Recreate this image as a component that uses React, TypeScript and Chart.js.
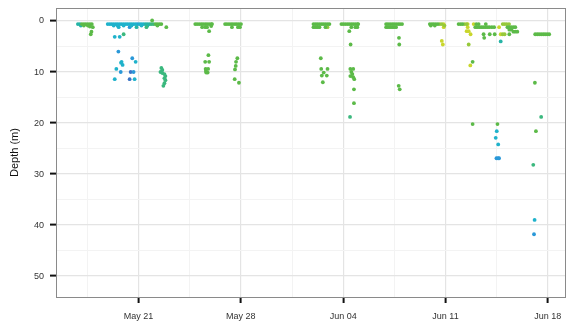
import React, { useEffect, useRef } from "react";
import { Chart, registerables } from "chart.js";

Chart.register(...registerables);

// x = days after May 21, y = depth (m)
const tickLabels = ["May 21", "May 28", "Jun 04", "Jun 11", "Jun 18"];
const depthTicks = [0, 10, 20, 30, 40, 50];

const cyanObs: [number, number][] = [
  [-2.11, 0.6], [-1.97, 0.6], [-1.84, 0.6], [-1.7, 0.6], [-1.56, 0.6], [-1.43, 0.6], [-1.29, 0.6], [-1.16, 0.6],
  [-1.02, 0.6], [-0.88, 0.6], [-0.75, 0.6], [-0.61, 0.6], [-0.48, 0.6], [-0.34, 0.6], [-0.2, 0.6], [0.07, 0.6],
  [0.2, 0.6], [0.34, 0.6], [-1.7, 0.9], [-1.43, 0.9], [-1.02, 0.9], [-0.48, 0.9], [0.2, 0.9],
  [-1.36, 1.2], [-1.63, 3.1], [-1.29, 3.1], [-1.16, 8.0], [-1.09, 8.6], [-1.2, 8.2], [-0.2, 8.0], [-1.52, 9.4],
  [-1.63, 11.4], [-0.27, 11.4], [24.51, 21.6], [24.44, 22.9], [24.61, 24.2], [27.1, 39.0],
];
const blueObs: [number, number][] = [
  [-0.07, 0.6], [-0.61, 1.2], [-1.38, 6.0], [-0.43, 7.3], [-1.22, 10.0], [-0.34, 10.0],
  [24.49, 26.9], [24.6, 26.9], [24.67, 26.9], [27.06, 41.8],
];
const darkBlueObs: [number, number][] = [[-0.61, 11.4], [-0.54, 10.0]];
const tealObs: [number, number][] = [
  [-4.15, 0.6], [-4.01, 0.6], [-3.95, 0.9], [0.48, 0.6], [0.61, 0.6], [0.75, 0.6], [0.61, 0.9], [-0.14, 1.2], [24.78, 4.0],
];
const tealGreenObs: [number, number][] = [
  [1.56, 9.2], [1.63, 9.6], [1.5, 10.0], [1.63, 10.2], [1.77, 10.4], [1.84, 10.8], [1.77, 11.2], [1.84, 11.6],
  [1.77, 12.2], [1.7, 12.7], [0.54, 1.2], [-1.02, 2.6], [0.88, 0.6], [1.02, 0.6], [14.47, 18.8], [27.55, 18.8], [27.01, 28.2],
];
const greenObs: [number, number][] = [
  [-3.88, 0.6], [-3.74, 0.6], [-3.61, 0.6], [-3.47, 0.6], [-3.33, 0.6], [-3.2, 0.6], [-3.74, 0.9], [-3.47, 0.9],
  [-3.33, 1.1], [-3.13, 1.2], [-3.22, 2.1], [-3.27, 2.6],
  [1.16, 0.6], [1.29, 0.6], [1.43, 0.6], [1.56, 0.6], [1.29, 0.9], [0.93, -0.1], [1.9, 1.2],
  [3.88, 0.6], [4.01, 0.6], [4.15, 0.6], [4.29, 0.6], [4.42, 0.6], [4.56, 0.6], [4.69, 0.6], [4.83, 0.6], [4.97, 0.6],
  [5.03, 0.6], [4.35, 1.2], [4.56, 1.2], [4.69, 1.2], [4.83, 2.0], [4.97, 1.0], [4.78, 6.7], [4.56, 8.0], [4.83, 8.0],
  [4.59, 9.4], [4.76, 9.4], [4.63, 10.1], [4.73, 10.1], [4.61, 9.8],
  [5.92, 0.6], [6.05, 0.6], [6.19, 0.6], [6.33, 0.6], [6.46, 0.6], [6.6, 0.6], [6.73, 0.6], [6.87, 0.6], [7.01, 0.6],
  [6.39, 1.2], [6.8, 1.2], [6.94, 1.2], [6.76, 7.3], [6.67, 8.0], [6.65, 8.8], [6.6, 9.5], [6.58, 11.4], [6.87, 12.1],
  [11.97, 0.6], [12.11, 0.6], [12.24, 0.6], [12.38, 0.6], [12.52, 0.6], [12.65, 0.6], [12.79, 0.6], [12.93, 0.6],
  [13.06, 0.6], [11.97, 1.2], [12.11, 1.2], [12.24, 1.2], [12.38, 1.2], [12.79, 1.2], [12.47, 7.3], [12.5, 9.4],
  [12.93, 9.4], [12.67, 10.1], [12.54, 10.7], [12.88, 10.7], [12.61, 12.0],
  [13.88, 0.6], [14.01, 0.6], [14.15, 0.6], [14.29, 0.6], [14.42, 0.6], [14.56, 0.6], [14.69, 0.6], [14.83, 0.6],
  [14.97, 0.6], [15.03, 0.6], [14.56, 1.2], [14.83, 1.2], [14.97, 1.2], [14.42, 2.0], [14.51, 4.6], [14.49, 9.4],
  [14.69, 9.4], [14.56, 10.0], [14.63, 10.4], [14.49, 10.8], [14.69, 11.0], [14.76, 11.4], [14.74, 13.4], [14.74, 16.1],
  [16.94, 0.6], [17.07, 0.6], [17.21, 0.6], [17.35, 0.6], [17.48, 0.6], [17.62, 0.6], [17.76, 0.6], [17.89, 0.6],
  [18.03, 0.6], [16.94, 1.2], [17.07, 1.2], [17.21, 1.2], [17.35, 1.2], [17.48, 1.2], [17.62, 1.2], [17.82, 3.3],
  [17.84, 4.6], [17.8, 12.7], [17.87, 13.4],
  [19.93, 0.6], [20.07, 0.6], [20.2, 0.6], [20.34, 0.6], [20.48, 0.6], [20.0, 0.9], [20.27, 0.9],
  [21.9, 0.6], [22.04, 0.6], [22.17, 0.6], [22.86, 8.0], [22.86, 20.2],
  [23.11, 0.6], [23.27, 0.6], [23.76, 0.6], [23.04, 1.2], [23.17, 1.2], [23.31, 1.2], [23.45, 1.2], [23.58, 1.2],
  [23.72, 1.2], [23.86, 1.2], [24.0, 1.2], [24.17, 1.2], [24.33, 1.2], [23.61, 2.6], [24.03, 2.6], [24.37, 2.6], [23.65, 3.3],
  [25.24, 1.2], [25.37, 1.2], [25.51, 1.2], [25.65, 1.2], [25.78, 1.2], [25.51, 1.7], [25.65, 2.1], [25.78, 2.1],
  [25.92, 2.1], [25.37, 2.6], [25.37, 1.7],
  [27.14, 2.6], [27.28, 2.6], [27.41, 2.6], [27.55, 2.6], [27.69, 2.6], [27.82, 2.6], [27.96, 2.6], [28.1, 2.6],
  [24.56, 20.2], [27.12, 12.1], [27.19, 21.6],
];
const limeObs: [number, number][] = [
  [20.61, 0.6], [20.75, 0.6], [22.31, 0.6], [22.45, 0.6], [12.93, 1.2], [24.92, 0.6], [25.05, 0.6], [25.19, 0.6],
  [25.35, 0.6], [24.92, 2.6], [25.05, 2.6], [20.93, 0.9], [22.59, 4.6],
];
const yellowObs: [number, number][] = [
  [20.88, 0.6], [20.88, 1.2], [20.75, 3.9], [20.82, 4.6], [22.52, 0.6], [22.52, 1.2], [22.45, 2.0], [22.59, 2.0],
  [22.72, 2.6], [22.7, 8.7], [22.93, 0.6], [24.67, 1.2], [24.78, 2.6],
];

const groups: { obs: [number, number][]; color: string }[] = [
  { obs: greenObs, color: "#5cba48" },
  { obs: limeObs, color: "#96c93a" },
  { obs: yellowObs, color: "#c9d62c" },
  { obs: tealGreenObs, color: "#3bb87e" },
  { obs: tealObs, color: "#26b4a6" },
  { obs: cyanObs, color: "#1fb2cb" },
  { obs: blueObs, color: "#2a98d8" },
  { obs: darkBlueObs, color: "#3b74c6" },
];

const framePlugin = {
  id: "frame",
  afterDatasetsDraw(chart: any) {
    const { ctx, chartArea } = chart;
    ctx.save();
    ctx.strokeStyle = "#8a8a8a";
    ctx.lineWidth = 1;
    ctx.strokeRect(
      Math.round(chartArea.left) - 0.5,
      Math.round(chartArea.top) + 0.5,
      Math.round(chartArea.right - chartArea.left) + 1,
      Math.round(chartArea.bottom - chartArea.top)
    );
    ctx.restore();
  },
};

export default function App() {
  const ref = useRef<HTMLCanvasElement>(null);
  useEffect(() => {
    if (!ref.current) return;
    const isMajorX = (v: number) => Math.abs(v % 7) < 1e-6;
    const isMajorY = (v: number) => depthTicks.includes(v);
    const chart = new Chart(ref.current, {
      type: "scatter",
      data: {
        datasets: groups.map((g) => ({
          data: g.obs.map(([x, y]) => ({ x, y })),
          backgroundColor: g.color,
          borderColor: g.color,
          borderWidth: 0,
          pointRadius: 1.9,
        })),
      },
      options: {
        animation: false,
        responsive: false,
        devicePixelRatio: 1,
        layout: { padding: { top: 8, right: 1, left: 0, bottom: 0 } },
        plugins: { legend: { display: false }, tooltip: { enabled: false } },
        scales: {
          x: {
            type: "linear",
            min: -5.58,
            max: 29.18,
            border: { display: false },
            afterFit: (s: any) => {
              s.height = 30;
              s.paddingLeft = 0;
              s.paddingRight = 0;
            },
            ticks: {
              stepSize: 3.5,
              includeBounds: false,
              autoSkip: false,
              maxRotation: 0,
              padding: 8,
              color: "#333",
              font: { family: "Liberation Sans, Arial, sans-serif", size: 9 },
              callback: (v: any) => {
                const n = Number(v);
                if (!isMajorX(n)) return "";
                const i = Math.round(n / 7);
                return tickLabels[i] ?? "";
              },
            },
            grid: {
              color: (c: any) => (isMajorX(c.tick?.value ?? 0) ? "#e4e4e4" : "#f3f3f3"),
              lineWidth: (c: any) => (isMajorX(c.tick?.value ?? 0) ? 1.2 : 1),
              tickLength: 6,
              tickWidth: 2,
              tickColor: (c: any) => (isMajorX(c.tick?.value ?? 0) ? "#111" : "rgba(0,0,0,0)"),
            },
          },
          y: {
            type: "linear",
            reverse: true,
            min: -2.55,
            max: 54.1,
            border: { display: false },
            afterFit: (s: any) => {
              s.width = 57;
              s.paddingTop = 0;
              s.paddingBottom = 0;
            },
            title: {
              display: true,
              text: "Depth (m)",
              color: "#111",
              font: { family: "Liberation Sans, Arial, sans-serif", size: 11 },
              padding: { top: 8, bottom: 0 },
            },
            ticks: {
              stepSize: 5,
              includeBounds: false,
              autoSkip: false,
              padding: 6,
              color: "#333",
              font: { family: "Liberation Sans, Arial, sans-serif", size: 9 },
              callback: (v: any) => (isMajorY(Number(v)) ? String(v) : ""),
            },
            grid: {
              color: (c: any) => (isMajorY(c.tick?.value ?? 1) ? "#e4e4e4" : "#f3f3f3"),
              lineWidth: (c: any) => (isMajorY(c.tick?.value ?? 1) ? 1.2 : 1),
              tickLength: 7,
              tickWidth: 2,
              tickColor: (c: any) => (isMajorY(c.tick?.value ?? 1) ? "#111" : "rgba(0,0,0,0)"),
            },
          },
        },
      },
      plugins: [framePlugin],
    });
    return () => chart.destroy();
  }, []);
  return (
    <div style={{ position: "absolute", left: 0, top: 0, width: 569, height: 327, background: "#fff" }}>
      <canvas ref={ref} width={569} height={327} style={{ display: "block" }} />
    </div>
  );
}
